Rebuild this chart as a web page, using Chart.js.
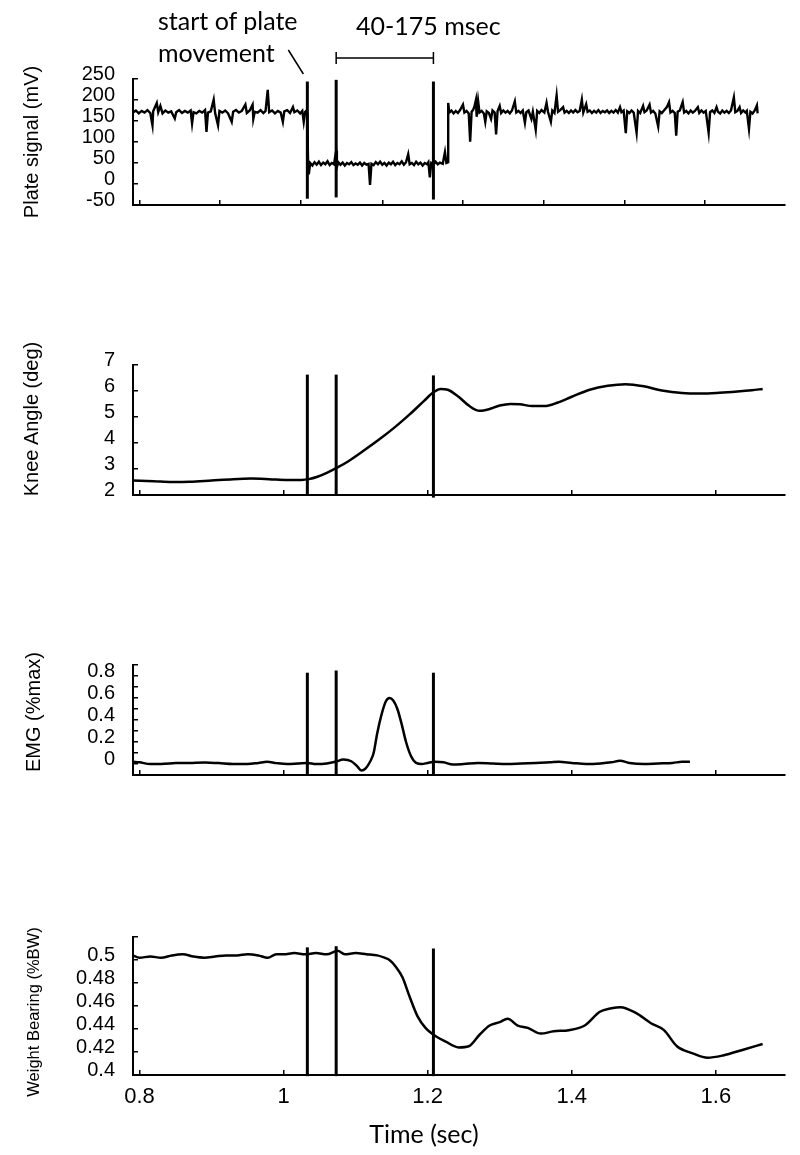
<!DOCTYPE html>
<html>
<head>
<meta charset="utf-8">
<title>Plate perturbation trial</title>
<script src="https://cdn.jsdelivr.net/npm/chart.js@4.4.1/dist/chart.umd.min.js"></script>
<style>
  body { margin: 0; width: 800px; height: 1155px; background: #fff; position: relative; overflow: hidden; }
  canvas { position: absolute; left: 0; }
  .note { position: absolute; font-family: Lato, "Open Sans", sans-serif; font-size: 25px; line-height: 32px; color: #000; white-space: nowrap; }
  .yt { position: absolute; transform: translate(-50%, -50%) rotate(-90deg); font-family: "Liberation Sans", Arial, sans-serif; white-space: nowrap; color: #000; line-height: 1.2; }
  .xt { position: absolute; transform: translate(-50%, -50%); font-family: Lato, "Open Sans", sans-serif; font-size: 25px; white-space: nowrap; line-height: 1.2; }
</style>
</head>
<body>
<canvas id="plate" width="800" height="240" style="top:0px"></canvas>
<canvas id="knee" width="800" height="200" style="top:330px"></canvas>
<canvas id="emg" width="800" height="180" style="top:630px"></canvas>
<canvas id="weight" width="800" height="255" style="top:900px"></canvas>

<div class="note" style="left:158px;top:4px">start of plate<br>movement</div>
<div class="note" style="left:356px;top:9px">40-175 msec</div>
<div class="yt" style="left:31px;top:142px;font-size:20px">Plate signal (mV)</div>
<div class="yt" style="left:31px;top:419px;font-size:20px">Knee Angle (deg)</div>
<div class="yt" style="left:33px;top:712px;font-size:20px">EMG (%max)</div>
<div class="yt" style="left:34px;top:1012px;font-size:16.5px">Weight Bearing (%BW)</div>
<div class="xt" style="left:424px;top:1133px">Time (sec)</div>

<script>
// event markers: plate movement onset, +40 ms, +175 ms
const eventTimes = [1.033, 1.073, 1.208];

const timeTicks = [0.8, 1, 1.2, 1.4, 1.6];
const plateTicks = [0.8, 0.912, 1.024, 1.137, 1.249, 1.361, 1.473, 1.585];

// plate signal (mV)
const plateTime = [
  0.791, 0.795, 0.799, 0.803, 0.807, 0.811, 0.815, 0.818, 0.819, 0.824, 0.826, 0.829, 0.832, 0.836, 0.840, 0.844,
  0.849, 0.851, 0.855, 0.859, 0.863, 0.867, 0.871, 0.873, 0.875, 0.879, 0.883, 0.887, 0.891, 0.893, 0.895, 0.899,
  0.903, 0.905, 0.909, 0.911, 0.915, 0.919, 0.923, 0.928, 0.930, 0.934, 0.938, 0.942, 0.947, 0.949, 0.953, 0.957,
  0.958, 0.960, 0.964, 0.968, 0.972, 0.975, 0.978, 0.980, 0.984, 0.988, 0.992, 0.996, 0.999, 1.001, 1.005, 1.009,
  1.013, 1.015, 1.019, 1.023, 1.026, 1.028, 1.030, 1.032, 1.033,
  1.034, 1.035, 1.037, 1.040, 1.043, 1.046, 1.049, 1.052, 1.055, 1.058, 1.061, 1.064, 1.067, 1.070, 1.073, 1.074,
  1.076, 1.079, 1.082, 1.085, 1.088, 1.091, 1.094, 1.097, 1.100, 1.103, 1.106, 1.109, 1.112, 1.115, 1.118, 1.120,
  1.122, 1.125, 1.128, 1.131, 1.134, 1.137, 1.140, 1.143, 1.146, 1.149, 1.152, 1.155, 1.158, 1.161, 1.164, 1.167,
  1.170, 1.173, 1.175, 1.178, 1.181, 1.184, 1.187, 1.190, 1.193, 1.196, 1.199, 1.201, 1.203, 1.205, 1.208, 1.211,
  1.214, 1.217, 1.221, 1.224, 1.226, 1.2285, 1.2285,
  1.230, 1.233, 1.236, 1.239, 1.242, 1.245, 1.249, 1.251, 1.254, 1.257, 1.259, 1.261, 1.263, 1.265, 1.267, 1.268,
  1.270, 1.272, 1.275, 1.278, 1.280, 1.282, 1.285, 1.288, 1.290, 1.293, 1.295, 1.297, 1.300, 1.302, 1.305, 1.308,
  1.311, 1.314, 1.317, 1.321, 1.323, 1.326, 1.329, 1.332, 1.335, 1.337, 1.340, 1.344, 1.346, 1.350, 1.352, 1.355,
  1.358, 1.362, 1.365, 1.367, 1.371, 1.373, 1.376, 1.379, 1.381, 1.384, 1.388, 1.390, 1.393, 1.396, 1.399, 1.402,
  1.405, 1.408, 1.411, 1.414, 1.416, 1.420, 1.422, 1.425, 1.428, 1.431, 1.434, 1.437, 1.440, 1.443, 1.446, 1.449,
  1.452, 1.455, 1.458, 1.461, 1.464, 1.467, 1.469, 1.472, 1.475, 1.477, 1.480, 1.483, 1.486, 1.490, 1.492, 1.495,
  1.499, 1.501, 1.504, 1.508, 1.510, 1.513, 1.516, 1.520, 1.522, 1.525, 1.528, 1.532, 1.535, 1.537, 1.540, 1.543,
  1.545, 1.547, 1.550, 1.554, 1.556, 1.559, 1.562, 1.565, 1.568, 1.571, 1.575, 1.577, 1.580, 1.583, 1.586, 1.590,
  1.592, 1.595, 1.598, 1.601, 1.603, 1.606, 1.609, 1.612, 1.615, 1.618, 1.621, 1.625, 1.627, 1.630, 1.633, 1.635,
  1.638, 1.641, 1.643, 1.646, 1.648, 1.651, 1.654, 1.657, 1.658
];
const plateMv = [
  170, 175, 168, 174, 170, 176, 169, 140, 173, 193, 171, 186, 168, 175, 170, 173,
  156, 171, 176, 169, 174, 170, 175, 144, 171, 168, 174, 170, 176, 124, 170, 173,
  201, 169, 140, 174, 170, 175, 168, 148, 172, 176, 170, 174, 189, 169, 175, 189,
  155, 172, 170, 176, 169, 174, 224, 171, 175, 168, 174, 170, 148, 173, 176, 169,
  183, 171, 175, 168, 174, 148, 172, 175, 166,
  48, 23, 50, 44, 52, 46, 53, 45, 51, 47, 54, 45, 50, 47, 79, 40,
  52, 46, 51, 44, 50, 47, 52, 45, 49, 46, 51, 44, 50, 46, 48, -2,
  48, 45, 52, 47, 53, 46, 50, 44, 51, 47, 53, 45, 50, 47, 54, 46,
  52, 71, 47, 50, 45, 53, 47, 51, 44, 50, 47, 52, 16, 50, 46, 53,
  47, 51, 48, 76, 50, 52, 193,
  170, 175, 168, 174, 169, 176, 189, 170, 174, 168, 101, 172, 176, 185, 200, 160,
  198, 170, 174, 168, 148, 173, 169, 155, 175, 170, 118, 173, 186, 169, 175, 170,
  174, 168, 175, 197, 170, 174, 169, 175, 146, 171, 175, 155, 172, 129, 174, 169,
  176, 170, 193, 172, 148, 175, 169, 211, 172, 176, 183, 170, 174, 169, 175, 170,
  176, 171, 174, 201, 170, 190, 172, 175, 169, 174, 170, 176, 169, 174, 171, 175,
  169, 174, 170, 176, 170, 183, 171, 175, 121, 173, 169, 175, 170, 122, 174, 169,
  186, 171, 175, 189, 170, 174, 168, 137, 173, 169, 175, 183, 195, 170, 174, 169,
  115, 172, 175, 195, 170, 174, 168, 175, 170, 174, 183, 169, 175, 170, 174, 122,
  171, 175, 169, 183, 172, 168, 175, 170, 174, 169, 175, 206, 171, 174, 183, 169,
  175, 170, 174, 131, 172, 168, 175, 187, 168
];

// knee angle (deg)
const kneeTime = [0.791, 0.82, 0.845, 0.87, 0.9, 0.93, 0.955, 0.98, 1.005, 1.025, 1.035, 1.047, 1.06, 1.075,
  1.09, 1.11, 1.133, 1.155, 1.175, 1.195, 1.208, 1.218, 1.228, 1.242, 1.258, 1.272, 1.285, 1.3, 1.315, 1.328,
  1.345, 1.362, 1.38, 1.4, 1.425, 1.45, 1.475, 1.5, 1.525, 1.553, 1.58, 1.605, 1.63, 1.65, 1.665];
const kneeDeg = [2.56, 2.53, 2.5, 2.51, 2.56, 2.61, 2.63, 2.61, 2.58, 2.58, 2.61, 2.7, 2.85, 3.06,
  3.3, 3.68, 4.14, 4.62, 5.1, 5.62, 5.95, 6.08, 6.05, 5.8, 5.42, 5.24, 5.3, 5.44, 5.5, 5.49,
  5.42, 5.42, 5.55, 5.78, 6.05, 6.2, 6.26, 6.18, 6.02, 5.92, 5.9, 5.93, 5.98, 6.03, 6.08];

// EMG (%max)
const emgTime = [0.791, 0.8, 0.815, 0.83, 0.85, 0.87, 0.891, 0.91, 0.93, 0.95, 0.965, 0.977, 0.99, 1.005,
  1.02, 1.033, 1.045, 1.06, 1.072, 1.083, 1.094, 1.102, 1.108, 1.114, 1.12, 1.125, 1.13, 1.136, 1.142, 1.147,
  1.152, 1.158, 1.164, 1.17, 1.177, 1.184, 1.192, 1.2, 1.21, 1.222, 1.235, 1.25, 1.27, 1.29, 1.31, 1.33,
  1.35, 1.37, 1.382, 1.4, 1.42, 1.44, 1.455, 1.467, 1.48, 1.5, 1.52, 1.54, 1.553, 1.564];
const emgMax = [0.02, 0.015, 0.0, 0.0, 0.008, 0.01, 0.014, 0.008, 0.0, 0.0, 0.01, 0.02, 0.008, 0.0,
  0.005, 0.01, 0.0, 0.005, 0.02, 0.04, 0.025, -0.02, -0.06, -0.04, 0.02, 0.1, 0.28, 0.45, 0.57, 0.6,
  0.58, 0.5, 0.36, 0.2, 0.07, 0.01, 0.0, 0.01, 0.02, 0.015, -0.005, 0.0, 0.01, 0.005, 0.0, 0.005,
  0.01, 0.015, 0.02, 0.01, 0.0, 0.005, 0.015, 0.03, 0.01, 0.0, 0.005, 0.01, 0.02, 0.02];

// weight bearing (%BW)
const weightTime = [0.791, 0.8, 0.815, 0.83, 0.845, 0.86, 0.875, 0.89, 0.905, 0.92, 0.935, 0.95, 0.965,
  0.978, 0.99, 1.0, 1.015, 1.03, 1.045, 1.06, 1.075, 1.085, 1.1, 1.115, 1.13, 1.14, 1.147, 1.156, 1.165,
  1.175, 1.186, 1.197, 1.213, 1.225, 1.243, 1.257, 1.272, 1.286, 1.3, 1.311, 1.325, 1.339, 1.357, 1.375,
  1.396, 1.418, 1.439, 1.455, 1.4675, 1.489, 1.51, 1.528, 1.546, 1.567, 1.5885, 1.61, 1.638, 1.665];
const weightBw = [0.504, 0.502, 0.503, 0.502, 0.504, 0.505, 0.503, 0.502, 0.503, 0.504, 0.504, 0.505, 0.504,
  0.502, 0.505, 0.505, 0.506, 0.505, 0.506, 0.505, 0.508, 0.505, 0.506, 0.505, 0.504, 0.502, 0.5, 0.494, 0.485,
  0.468, 0.451, 0.441, 0.433, 0.429, 0.424, 0.425, 0.435, 0.443, 0.446, 0.449, 0.443, 0.441, 0.436, 0.438,
  0.439, 0.443, 0.455, 0.458, 0.459, 0.454, 0.445, 0.439, 0.425, 0.419, 0.415, 0.417, 0.422, 0.427];

// y extents of the three event lines in each panel
const plateEventLow = [-35, -32, -37], plateEventHigh = [244, 248, 244];
const kneeEventLow = [1.97, 1.97, 1.9], kneeEventHigh = [6.63, 6.63, 6.6];
const emgEventLow = [-0.1, -0.1, -0.1], emgEventHigh = [0.83, 0.85, 0.83];
const weightEventLow = [0.399, 0.399, 0.399], weightEventHigh = [0.511, 0.512, 0.51];

const xMin = 0.791, xMax = 1.696;

Chart.defaults.font.family = "'Liberation Sans', Arial, sans-serif";
Chart.defaults.color = '#000';

function xy(ts, vs) {
  return ts.map((t, i) => ({ x: t, y: vs[i] }));
}

// bracket "40-175 msec" and leader from the onset label
const bracketPlugin = {
  id: 'bracket',
  afterDraw(chart) {
    const ctx = chart.ctx, sx = chart.scales.x;
    const a = sx.getPixelForValue(eventTimes[1]), b = sx.getPixelForValue(eventTimes[2]);
    const onset = sx.getPixelForValue(eventTimes[0]);
    ctx.save();
    ctx.strokeStyle = '#000';
    ctx.lineWidth = 1.5;
    ctx.beginPath();
    ctx.moveTo(a, 58); ctx.lineTo(b, 58);
    ctx.moveTo(a, 52); ctx.lineTo(a, 64);
    ctx.moveTo(b, 52); ctx.lineTo(b, 64);
    ctx.moveTo(onset - 19, 50); ctx.lineTo(onset - 4, 74);
    ctx.stroke();
    ctx.restore();
  }
};

function makePanel(id, o) {
  const events = eventTimes.map((t, i) => ({
    data: [{ x: t, y: o.lo[i] }, { x: t, y: o.hi[i] }],
    borderColor: '#000', borderWidth: 3, pointRadius: 0, clip: false
  }));
  return new Chart(document.getElementById(id), {
    type: 'line',
    data: {
      datasets: [{
        data: xy(o.t, o.v),
        borderColor: '#000', borderWidth: o.lw, pointRadius: 0,
        tension: o.smooth ? 0.4 : 0, cubicInterpolationMode: o.smooth ? 'monotone' : 'default'
      }, ...events]
    },
    options: {
      responsive: false,
      animation: false,
      events: [],
      layout: { padding: { top: o.padTop, right: 15, left: 0, bottom: 0 } },
      plugins: { legend: { display: false }, tooltip: { enabled: false } },
      scales: {
        x: {
          type: 'linear', min: xMin, max: xMax,
          afterBuildTicks: s => { s.ticks = o.xTicks.map(v => ({ value: v })); },
          afterFit: s => { s.height = o.axisH; },
          border: { color: '#000', width: 2 },
          grid: { drawOnChartArea: false, color: '#000', lineWidth: 1.5, tickLength: -5 },
          ticks: { display: !!o.xLabels, autoSkip: false, padding: 14, font: { size: 22 }, maxRotation: 0, callback: v => String(v) }
        },
        y: {
          min: o.yMin, max: o.yMax,
          afterBuildTicks: s => { s.ticks = o.yTicks.map(v => ({ value: v })); },
          afterFit: s => { s.width = 133; },
          border: { color: '#000', width: 2 },
          grid: { drawOnChartArea: false, color: '#000', lineWidth: 1.5, tickLength: -5 },
          ticks: { autoSkip: false, padding: 23, labelOffset: -5, font: { size: 20 }, callback: o.yLabel }
        }
      }
    },
    plugins: o.plugins || []
  });
}

const emgLabelled = [0, 0.2, 0.4, 0.6, 0.8];

makePanel('plate', {
  t: plateTime, v: plateMv, lw: 2.4, lo: plateEventLow, hi: plateEventHigh,
  padTop: 79, axisH: 25, xTicks: plateTicks,
  yMin: -50, yMax: 250, yTicks: [-50, 0, 50, 100, 150, 200, 250], yLabel: v => String(v),
  plugins: [bracketPlugin]
});
makePanel('knee', {
  t: kneeTime, v: kneeDeg, lw: 2.5, smooth: true, lo: kneeEventLow, hi: kneeEventHigh,
  padTop: 35, axisH: 28, xTicks: timeTicks,
  yMin: 2, yMax: 7, yTicks: [2, 3, 4, 5, 6, 7], yLabel: v => String(v)
});
makePanel('emg', {
  t: emgTime, v: emgMax, lw: 2.5, smooth: true, lo: emgEventLow, hi: emgEventHigh,
  padTop: 22, axisH: 22, xTicks: timeTicks,
  yMin: -0.1, yMax: 0.9, yTicks: [-0.1, 0, 0.1, 0.2, 0.3, 0.4, 0.5, 0.6, 0.7, 0.8, 0.9],
  yLabel: v => emgLabelled.includes(v) ? String(v) : ''
});
makePanel('weight', {
  t: weightTime, v: weightBw, lw: 2.5, smooth: true, lo: weightEventLow, hi: weightEventHigh,
  padTop: 37, axisH: 80, xTicks: timeTicks, xLabels: true,
  yMin: 0.4, yMax: 0.52, yTicks: [0.4, 0.42, 0.44, 0.46, 0.48, 0.5, 0.52],
  yLabel: v => v === 0.52 ? '' : String(v)
});
</script>
</body>
</html>
